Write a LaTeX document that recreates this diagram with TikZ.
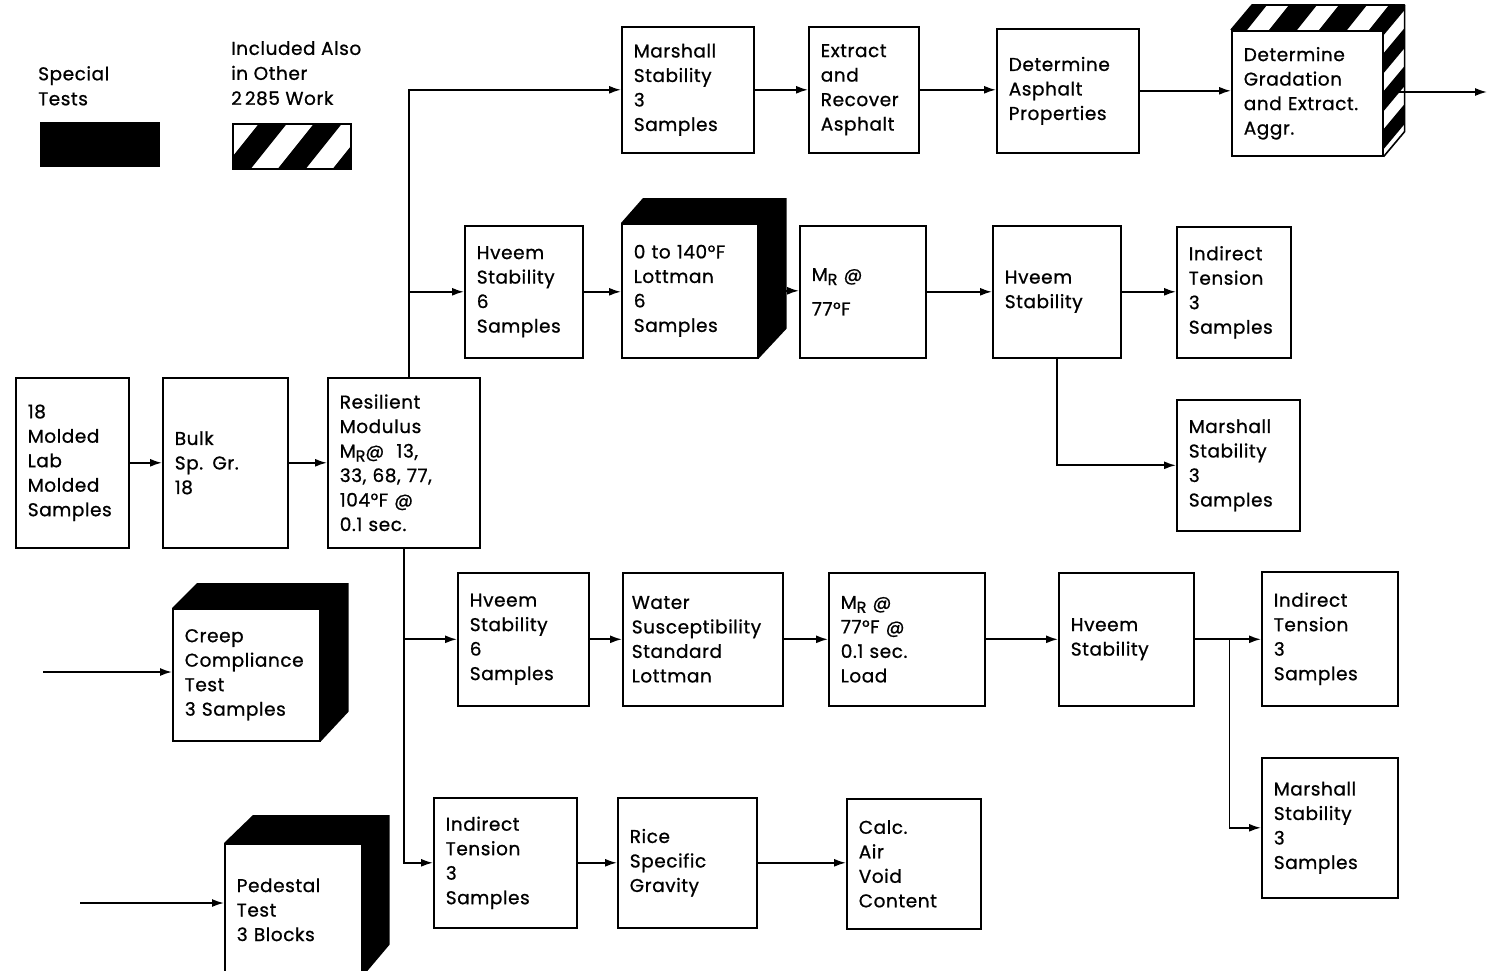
\documentclass[tikz,border=0pt]{standalone}
\usepackage{fontspec}
\setmainfont{Poppins}[FakeBold=0.8,LetterSpace=3]
\usetikzlibrary{arrows.meta,calc}
\newcommand\MR{M\raisebox{-0.4ex}{\fontsize{16}{16}\selectfont R}}
\newcommand\bx[7][]{%
  \pgfmathsetmacro\bw{#5-#3-24}\pgfmathsetmacro\bh{#6-#4}%
  \node[box,#1,anchor=north west,text width=\bw pt,minimum height=\bh pt] (#2) at (#3,#4) {#7};}
\begin{document}
\begin{tikzpicture}[x=1pt,y=-1pt,
  box/.style={draw,line width=1.6pt,fill=white,inner xsep=12pt,inner ysep=3pt,align=left,
    font=\fontsize{18.5}{24.5}\selectfont},
  conn/.style={line width=1.7pt,-{Latex[length=12pt,width=8pt]}},
  lbl/.style={align=left,anchor=north west,inner sep=0pt,font=\fontsize{18.5}{25}\selectfont},
  face/.style={line width=1.6pt}]
\useasboundingbox (0,0) rectangle (1489,971);

% legend
\node[lbl] (lt1) at (38,66) {Special\\Tests};
\node[lbl] (lt2) at (231,41) {Included Also\\in Other\\2\,285 Work};
\node[fill=black,minimum width=120pt,minimum height=45pt,anchor=north west,inner sep=0pt] (lg1) at (40,122) {};
\node[draw,line width=1.6pt,minimum width=118pt,minimum height=45pt,anchor=north west,inner sep=0pt,
  path picture={\foreach \k in {-3,...,3}{\fill ($(path picture bounding box.south west)+(\k*55-10,0)$) -- ++(28,0) -- ++(40,-50) -- ++(-28,0) -- cycle;}}] (lg2) at (232,123) {};

% main column
\bx{A}{15}{377}{128}{547}{18\\Molded\\Lab\\Molded\\Samples}
\bx{B}{162}{377}{287}{547}{Bulk\\Sp. Gr.\\18}
\bx{C}{327}{377}{479}{547}{Resilient\\Modulus\\\MR@ \ 13,\\33, 68, 77,\\104°F @\\0.1 sec.}

% top row
\bx{M1}{621}{26}{753}{152}{Marshall\\Stability\\3\\Samples}
\bx{E1}{808}{26}{918}{152}{Extract\\and\\Recover\\Asphalt}
\bx{D1}{996}{28}{1138}{152}{Determine\\Asphalt\\Properties}
\bx{G1}{1231}{30}{1382}{155}{Determine\\Gradation\\and Extract.\\Aggr.}

% second row
\bx{H2}{464}{225}{582}{357}{Hveem\\Stability\\6\\Samples}
\bx{L2}{621}{223}{757}{357}{0 to 140°F\\Lottman\\6\\Samples}
\bx{R2}{799}{225}{925}{357}{\MR\ @\\[10pt]77°F}
\bx{V2}{992}{225}{1120}{357}{Hveem\\Stability}
\bx{I2}{1176}{226}{1290}{357}{Indirect\\Tension\\3\\Samples}
\bx{S2}{1176}{399}{1299}{530}{Marshall\\Stability\\3\\Samples}

% third row
\bx{H3}{457}{572}{588}{705}{Hveem\\Stability\\6\\Samples}
\bx[inner xsep=9pt]{W3}{622}{572}{788}{705}{Water\\Susceptibility\\Standard\\Lottman}
\bx{R3}{828}{572}{984}{705}{\MR\ @\\77°F @\\0.1 sec.\\Load}
\bx{V3}{1058}{572}{1193}{705}{Hveem\\Stability}
\bx{I3}{1261}{571}{1397}{705}{Indirect\\Tension\\3\\Samples}
\bx{S3}{1261}{757}{1397}{897}{Marshall\\Stability\\3\\Samples}

% fourth row
\bx{I4}{433}{797}{576}{927}{Indirect\\Tension\\3\\Samples}
\bx{P4}{617}{797}{756}{927}{Rice\\Specific\\Gravity}
\bx{C4}{846}{798}{980}{928}{Calc.\\Air\\Void\\Content}

% special tests
\bx{Cr}{172}{608}{319}{740}{Creep\\Compliance\\Test\\3 Samples}
\bx{Pd}{224}{843}{361}{975}{Pedestal\\Test\\3 Blocks}

% 3D black faces
\fill[black] (L2.north west) -- ++(22,-25) -- ($(L2.north east)+(28,-25)$) -- ($(L2.south east)+(28,-30)$) -- (L2.south east) -- (L2.north east) -- cycle;
\fill[black] (Cr.north west) -- ++(25,-25) -- ($(Cr.north east)+(28,-25)$) -- ($(Cr.south east)+(28,-30)$) -- (Cr.south east) -- (Cr.north east) -- cycle;
\fill[black] (Pd.north west) -- ++(29,-28) -- ($(Pd.north east)+(27,-28)$) -- ($(Pd.south east)+(27,-32)$) -- (Pd.south east) -- (Pd.north east) -- cycle;

% 3D hatched faces
\begin{scope}
\clip (G1.north west) -- ++(21,-25) -- ($(G1.north east)+(21,-25)$) -- (G1.north east) -- cycle;
\foreach \k in {-2,...,5}{\fill ($(G1.north west)+(\k*50-20,10)$) -- ++(28,0) -- ++(40,-50) -- ++(-28,0) -- cycle;}
\end{scope}
\begin{scope}
\clip (G1.north east) -- ++(21,-25) -- ($(G1.south east)+(21,-25)$) -- (G1.south east) -- cycle;
\foreach \k in {-1,...,5}{\fill ($(G1.north east)+(-4,\k*38+10)$) -- ++(0,-20) -- ++(30,-36) -- ++(0,20) -- cycle;}
\end{scope}
\draw[face,line join=round] (G1.north west) -- ++(21,-25) -- ($(G1.north east)+(21,-25)$) -- ($(G1.south east)+(21,-25)$) -- (G1.south east);
\draw[face] (G1.north east) -- ++(21,-25);

% connectors
\draw[conn] (A.east) -- (A.east -| B.west);
\draw[conn] (B.east) -- (B.east -| C.west);
\coordinate (tt) at ($(C.north)+(5,0)$);
\draw[conn] (tt) |- (M1.west);
\draw[conn] (tt |- H2.west) -- (H2.west);
\draw[conn] (M1.east) -- (M1.east -| E1.west);
\draw[conn] (E1.east) -- (E1.east -| D1.west);
\draw[conn] (D1.east) -- (D1.east -| G1.west);
\coordinate (out) at (1487,92);
\draw[conn] (G1.east |- out) -- (out);

\draw[conn] (H2.east) -- (H2.east -| L2.west);
\draw[conn] (L2.east) -- (L2.east -| R2.west);
\draw[conn] (R2.east) -- (R2.east -| V2.west);
\draw[conn] (V2.east) -- (V2.east -| I2.west);
\draw[conn] (V2.south) |- (S2.west);

\draw[conn] (C.south) |- (I4.west);
\draw[conn] (C.south |- H3.west) -- (H3.west);
\draw[conn] (H3.east) -- (H3.east -| W3.west);
\draw[conn] (W3.east) -- (W3.east -| R3.west);
\draw[conn] (R3.east) -- (R3.east -| V3.west);
\draw[conn] (V3.east) -- (V3.east -| I3.west);
\coordinate (br) at ($(V3.east)+(35,0)$);
\draw[conn] (br) |- (S3.west);

\draw[conn] (I4.east) -- (I4.east -| P4.west);
\draw[conn] (P4.east) -- (P4.east -| C4.west);

\coordinate (in1) at (43,672);
\draw[conn] (in1) -- (in1 -| Cr.west);
\coordinate (in2) at (80,903);
\draw[conn] (in2) -- (in2 -| Pd.west);
\end{tikzpicture}
\end{document}
